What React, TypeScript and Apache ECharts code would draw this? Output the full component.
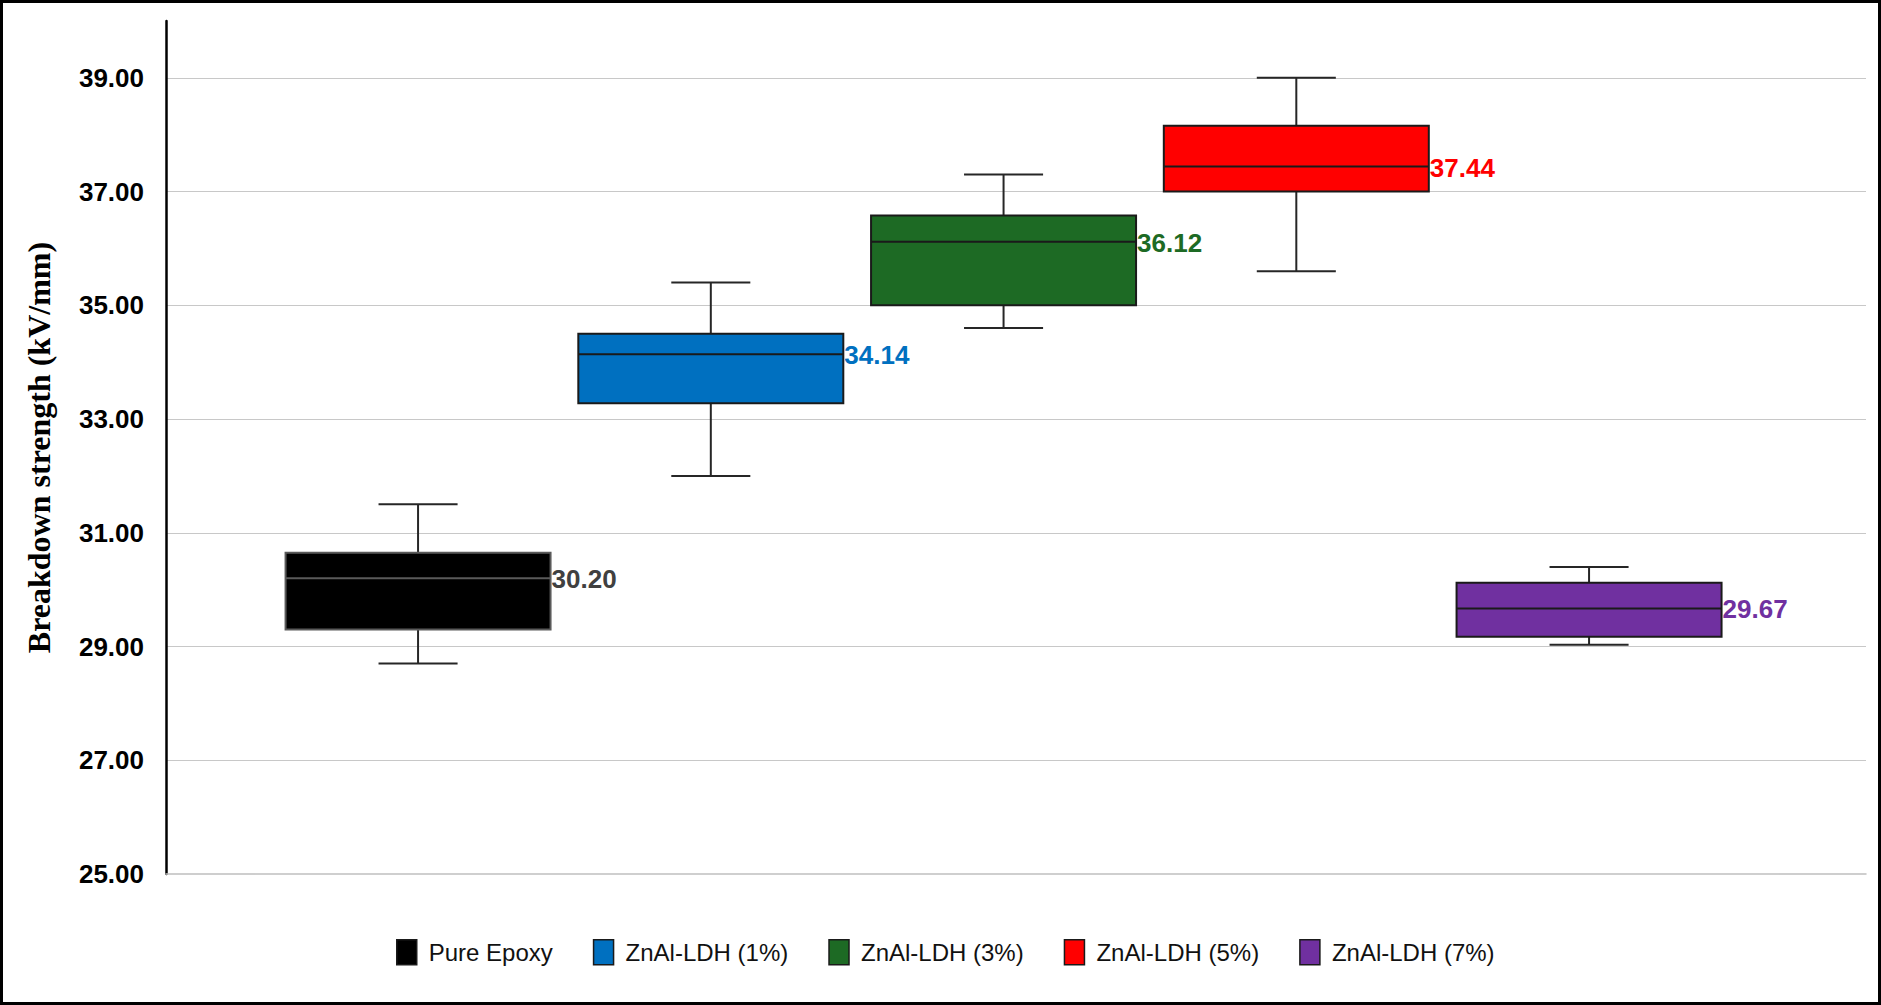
import React, { useEffect, useRef } from "react";
import * as echarts from "echarts";

// ---- Data ----
const seriesNames = ["Pure Epoxy", "ZnAl-LDH (1%)", "ZnAl-LDH (3%)", "ZnAl-LDH (5%)", "ZnAl-LDH (7%)"];
const whiskerLow = [28.7, 32.0, 34.6, 35.6, 29.03];
const q1Values = [29.3, 33.28, 35.0, 37.0, 29.17];
const medianValues = [30.2, 34.14, 36.12, 37.44, 29.67];
const q3Values = [30.65, 34.5, 36.58, 38.16, 30.12];
const whiskerHigh = [31.5, 35.4, 37.3, 39.0, 30.4];

const fillColors = ["#000000", "#0070C0", "#1D6A24", "#FF0000", "#7030A0"];
const labelColors = ["#404040", "#0070C0", "#1D6A24", "#FF0000", "#7030A0"];
const borderColors = ["#5a5a5a", "#1a1a1a", "#1a1a1a", "#1a1a1a", "#1a1a1a"];

const yMin = 25;
const yMax = 40;
const yInterval = 2;
const yTitle = "Breakdown strength (kV/mm)";

// layout of the (hidden) position axis
const xMin = -0.861;
const xMax = 4.946;
const boxHalf = 0.4526;
const capHalf = 0.135;

export default function App() {
  const ref = useRef<HTMLDivElement>(null);

  useEffect(() => {
    document.body.style.margin = "0";
    if (!ref.current) return;
    const chart = echarts.init(ref.current, null, { renderer: "svg" });

    const series = seriesNames.map((name, i) => ({
      type: "custom",
      name,
      xAxisIndex: 0,
      yAxisIndex: 0,
      itemStyle: { color: fillColors[i] },
      encode: { x: 0, y: [1, 2, 3, 4, 5] },
      data: [[i, whiskerLow[i], q1Values[i], medianValues[i], q3Values[i], whiskerHigh[i]]],
      z: 3,
      renderItem: (params: any, api: any) => {
        const x = api.value(0);
        const lo = api.value(1);
        const q1 = api.value(2);
        const med = api.value(3);
        const q3 = api.value(4);
        const hi = api.value(5);
        const pLo = api.coord([x, lo]);
        const pQ1 = api.coord([x, q1]);
        const pMed = api.coord([x, med]);
        const pQ3 = api.coord([x, q3]);
        const pHi = api.coord([x, hi]);
        const unit = api.size([1, 0])[0];
        const cx = pMed[0];
        const bh = unit * boxHalf;
        const ch = unit * capHalf;
        const wStyle = { stroke: "#262626", lineWidth: 2 };
        return {
          type: "group",
          children: [
            { type: "line", shape: { x1: cx, y1: pHi[1], x2: cx, y2: pQ3[1] }, style: wStyle },
            { type: "line", shape: { x1: cx - ch, y1: pHi[1], x2: cx + ch, y2: pHi[1] }, style: wStyle },
            { type: "line", shape: { x1: cx, y1: pQ1[1], x2: cx, y2: pLo[1] }, style: wStyle },
            { type: "line", shape: { x1: cx - ch, y1: pLo[1], x2: cx + ch, y2: pLo[1] }, style: wStyle },
            {
              type: "rect",
              shape: { x: cx - bh, y: pQ3[1], width: 2 * bh, height: pQ1[1] - pQ3[1] },
              style: { fill: fillColors[i], stroke: borderColors[i], lineWidth: 2 },
            },
            {
              type: "line",
              shape: { x1: cx - bh, y1: pMed[1], x2: cx + bh, y2: pMed[1] },
              style: { stroke: borderColors[i], lineWidth: 2 },
            },
            {
              type: "text",
              x: cx + bh + 1,
              y: pMed[1] + 1,
              style: {
                text: med.toFixed(2),
                fill: labelColors[i],
                fontSize: 26,
                fontWeight: "bold",
                fontFamily: "Liberation Sans",
                align: "left",
                verticalAlign: "middle",
              },
            },
          ],
        };
      },
    }));

    chart.setOption({
      animation: false,
      backgroundColor: "#ffffff",
      graphic: [
        {
          type: "rect",
          shape: { x: 1.5, y: 1.5, width: 1878, height: 1002 },
          style: { fill: "none", stroke: "#000000", lineWidth: 3 },
          silent: true,
          z: 100,
        },
      ],
      grid: { left: 166, right: 15, top: 21, bottom: 131, containLabel: false, outerBoundsMode: "none" },
      xAxis: {
        type: "value",
        min: xMin,
        max: xMax,
        axisLine: { show: true, onZero: false, lineStyle: { color: "#bfbfbf", width: 1.5 } },
        axisTick: { show: false },
        axisLabel: { show: false },
        splitLine: { show: false },
      },
      yAxis: {
        type: "value",
        min: yMin,
        max: yMax,
        interval: yInterval,
        name: yTitle,
        nameLocation: "middle",
        nameRotate: 90,
        nameGap: 111,
        nameTextStyle: {
          fontFamily: "Liberation Serif",
          fontWeight: "bold",
          fontSize: 32,
          color: "#000000",
        },
        axisLine: { show: true, onZero: false, lineStyle: { color: "#000000", width: 2.5 } },
        axisTick: { show: false },
        axisLabel: {
          margin: 22,
          fontFamily: "Liberation Sans",
          fontWeight: "bold",
          fontSize: 26,
          color: "#000000",
          showMaxLabel: false,
          formatter: (v: number) => (v >= yMax ? "" : v.toFixed(2)),
        },
        splitLine: { show: true, showMinLine: false, showMaxLine: false, lineStyle: { color: "#c8c8c8", width: 1 } },
      },
      legend: {
        show: true,
        left: 391,
        top: 934,
        icon: "rect",
        itemWidth: 20,
        itemHeight: 25,
        itemGap: 40,
        itemStyle: { borderColor: "#1a1a1a", borderWidth: 1.5 },
        textStyle: {
          fontFamily: "Liberation Sans",
          fontSize: 24,
          color: "#111111",
          padding: [0, 0, 0, 7],
        },
        data: seriesNames.map((n, i) => ({ name: n, itemStyle: { color: fillColors[i] } })),
      },
      series,
    });

    return () => chart.dispose();
  }, []);

  return <div ref={ref} style={{ width: 1881, height: 1005 }} />;
}
